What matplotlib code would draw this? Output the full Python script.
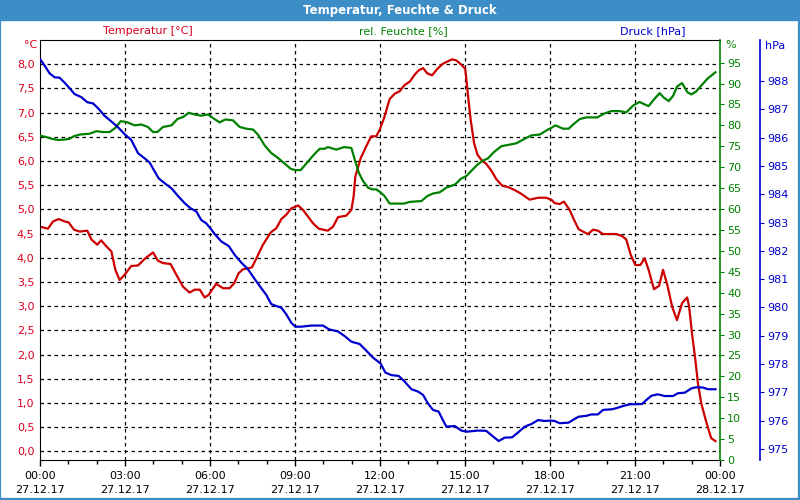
import matplotlib
matplotlib.use('Agg')
import matplotlib.pyplot as plt
from matplotlib.ticker import FuncFormatter, MultipleLocator
from matplotlib.patches import Rectangle

# hours since 27.12.17 00:00
temp_h = [0.02, 0.28, 0.46, 0.66, 0.87, 1.01, 1.2, 1.4, 1.67, 1.81, 2.02, 2.16, 2.32, 2.52, 2.66, 2.81,
          2.99, 3.22, 3.46, 3.72, 3.99, 4.16, 4.34, 4.61, 4.81, 5.05, 5.28, 5.46, 5.64, 5.81, 5.95, 6.11,
          6.22, 6.46, 6.69, 6.85, 7.01, 7.16, 7.48, 7.64, 7.87, 8.14, 8.34, 8.52, 8.69, 8.87, 9.11, 9.28,
          9.46, 9.64, 9.84, 10.16, 10.34, 10.52, 10.81, 10.99, 11.07, 11.13, 11.32, 11.52, 11.69, 11.87,
          11.99, 12.14, 12.34, 12.52, 12.69, 12.87, 13.05, 13.22, 13.36, 13.52, 13.67, 13.84, 14.02,
          14.22, 14.40, 14.54, 14.69, 14.87, 15.01, 15.11, 15.20, 15.32, 15.44, 15.58, 15.75, 15.93,
          16.11, 16.31, 16.52, 16.75, 16.99, 17.28, 17.58, 17.87, 18.07, 18.16, 18.34, 18.49, 18.69,
          18.85, 19.01, 19.20, 19.34, 19.52, 19.69, 19.87, 20.11, 20.34, 20.54, 20.69, 20.85, 21.01,
          21.19, 21.34, 21.48, 21.67, 21.85, 21.99, 22.14, 22.31, 22.48, 22.66, 22.84, 22.91, 23.01,
          23.13, 23.22, 23.34, 23.48, 23.60, 23.69, 23.84]
temp_c = [4.64, 4.60, 4.75, 4.80, 4.75, 4.73, 4.58, 4.54, 4.56, 4.38, 4.27, 4.36, 4.25, 4.13, 3.75, 3.54,
          3.65, 3.83, 3.84, 3.99, 4.11, 3.94, 3.89, 3.87, 3.65, 3.40, 3.28, 3.34, 3.34, 3.18, 3.23, 3.37,
          3.46, 3.37, 3.37, 3.47, 3.68, 3.76, 3.80, 3.99, 4.27, 4.52, 4.61, 4.80, 4.89, 5.02, 5.08, 4.99,
          4.85, 4.71, 4.60, 4.56, 4.64, 4.84, 4.87, 4.99, 5.27, 5.68, 6.06, 6.31, 6.51, 6.51,
          6.65, 6.88, 7.28, 7.39, 7.44, 7.57, 7.64, 7.78, 7.87, 7.92, 7.81, 7.77, 7.90,
          8.01, 8.06, 8.10, 8.08, 7.99, 7.90, 7.33, 6.85, 6.37, 6.13, 6.02, 5.94, 5.80,
          5.62, 5.49, 5.46, 5.40, 5.32, 5.20, 5.24, 5.24, 5.19, 5.13, 5.11, 5.16, 4.99,
          4.78, 4.59, 4.53, 4.49, 4.58, 4.56, 4.49, 4.49, 4.49, 4.45, 4.38, 4.06, 3.85,
          3.85, 3.99, 3.75, 3.35, 3.42, 3.75, 3.44, 2.99, 2.71, 3.06, 3.18, 2.99, 2.44,
          1.89, 1.41, 0.99, 0.68, 0.44, 0.27, 0.21]

hum_h = [0.02, 0.22, 0.4, 0.64, 0.87, 1.05, 1.2, 1.4, 1.75, 1.99, 2.22, 2.46, 2.66, 2.85, 3.05, 3.34,
         3.58, 3.81, 3.99, 4.14, 4.34, 4.64, 4.85, 5.05, 5.25, 5.46, 5.69, 5.93, 6.16, 6.34, 6.54,
         6.81, 7.05, 7.28, 7.52, 7.69, 7.93, 8.16, 8.40, 8.61, 8.85, 9.01, 9.20, 9.44, 9.67, 9.87,
         10.05, 10.16, 10.46, 10.73, 10.99, 11.11, 11.25, 11.40, 11.58, 11.72, 11.87, 12.05, 12.16,
         12.34, 12.64, 12.85, 13.05, 13.46, 13.67, 13.87, 14.11, 14.34, 14.66, 14.85, 15.05, 15.22,
         15.44, 15.64, 15.81, 16.02, 16.28, 16.58, 16.81, 17.05, 17.34, 17.64, 17.93, 18.05, 18.19,
         18.46, 18.66, 18.85, 19.05, 19.28, 19.67, 19.91, 20.16, 20.46, 20.69, 20.93, 21.16, 21.34,
         21.48, 21.67, 21.87, 22.02, 22.19, 22.34, 22.49, 22.66, 22.85, 22.99, 23.16, 23.34, 23.55,
         23.84]
hum_pct = [77.5, 77.2, 76.8, 76.5, 76.6, 76.8, 77.4, 77.8, 78.0, 78.6, 78.4, 78.4, 79.4, 81.0, 80.8, 80.0,
           80.2, 79.6, 78.4, 78.4, 79.6, 80.0, 81.5, 82.0, 83.0, 82.6, 82.3, 82.6, 81.5, 80.7, 81.4,
           81.2, 79.6, 79.2, 79.0, 77.8, 75.2, 73.4, 72.2, 71.0, 69.6, 69.3, 69.3, 71.2, 73.0, 74.4,
           74.4, 74.8, 74.2, 74.8, 74.6, 71.8, 68.7, 66.7, 65.1, 64.7, 64.7, 63.8, 63.1,
           61.3, 61.3, 61.3, 61.7, 61.9, 63.1, 63.7, 64.0, 65.1, 65.9, 67.2, 67.9, 69.1,
           70.6, 71.6, 72.1, 73.6, 75.0, 75.4, 75.7, 76.6, 77.6, 77.8, 79.0, 79.4, 80.0,
           79.2, 79.2, 80.4, 81.5, 81.9, 81.9, 82.8, 83.4, 83.4, 83.1, 84.7, 85.6, 85.0,
           84.6, 86.2, 87.7, 86.6, 85.8, 87.0, 89.3, 90.1, 87.9, 87.4, 88.1, 89.5, 91.1,
           92.7]

pres_h = [0.02, 0.16, 0.34, 0.52, 0.69, 0.87, 1.05, 1.22, 1.46, 1.67, 1.87, 2.05, 2.28, 2.52, 2.75, 2.99,
          3.22, 3.46, 3.69, 3.87, 4.05, 4.19, 4.40, 4.64, 4.87, 5.11, 5.32, 5.52, 5.69, 5.87, 6.05,
          6.16, 6.40, 6.66, 6.87, 7.11, 7.34, 7.58, 7.81, 7.99, 8.16, 8.34, 8.52, 8.69, 8.87, 9.01,
          9.22, 9.58, 9.99, 10.19, 10.52, 10.75, 10.99, 11.28, 11.52, 11.75, 12.02, 12.19, 12.40,
          12.66, 12.87, 13.11, 13.34, 13.52, 13.69, 13.87, 14.07, 14.19, 14.34, 14.64, 14.87, 15.05,
          15.46, 15.75, 15.99, 16.19, 16.40, 16.66, 16.87, 17.11, 17.34, 17.58, 17.81, 18.03, 18.16,
          18.34, 18.66, 18.85, 19.01, 19.28, 19.46, 19.69, 19.87, 20.16, 20.34, 20.52, 20.81, 21.01,
          21.25, 21.40, 21.58, 21.81, 22.05, 22.34, 22.52, 22.76, 22.99, 23.16, 23.40, 23.58, 23.84]
pres_hpa = [988.75, 988.55, 988.27, 988.13, 988.12, 987.94, 987.74, 987.54, 987.43, 987.25, 987.21,
            987.04, 986.77, 986.57, 986.37, 986.12, 985.92, 985.45, 985.27, 985.12, 984.80, 984.56,
            984.39, 984.21, 983.94, 983.68, 983.50, 983.39, 983.09, 982.97, 982.75, 982.60, 982.33,
            982.17, 981.86, 981.58, 981.35, 981.00, 980.68, 980.44, 980.12, 980.05, 979.99, 979.76,
            979.46, 979.32, 979.32, 979.36, 979.36, 979.23, 979.15, 978.99, 978.79, 978.71, 978.47,
            978.23, 978.02, 977.70, 977.61, 977.58, 977.38, 977.11, 977.03, 976.91, 976.61, 976.38,
            976.32, 976.08, 975.79, 975.81, 975.65, 975.61, 975.65, 975.64, 975.44, 975.28, 975.40,
            975.41, 975.58, 975.79, 975.88, 976.02, 975.99, 976.00, 975.99, 975.91, 975.93, 976.05,
            976.14, 976.17, 976.22, 976.22, 976.38, 976.40, 976.44, 976.50, 976.58, 976.58, 976.59,
            976.73, 976.88, 976.93, 976.87, 976.87, 976.97, 976.99, 977.14, 977.18, 977.17, 977.11,
            977.11]

x_ticks = [0, 3, 6, 9, 12, 15, 18, 21, 24]
x_labels = ['00:00\n27.12.17', '03:00\n27.12.17', '06:00\n27.12.17', '09:00\n27.12.17',
            '12:00\n27.12.17', '15:00\n27.12.17', '18:00\n27.12.17', '21:00\n27.12.17',
            '00:00\n28.12.17']

RED = '#cc0000'
RED_TXT = '#d8001e'
GREEN = '#008000'
BLUE = '#0000cc'
BAR = '#3d8ec7'

plt.rcParams['font.family'] = 'DejaVu Sans'
plt.rcParams['font.size'] = 8

fig = plt.figure(figsize=(8, 5), dpi=100)
fig.patch.set_facecolor('white')

# title bar and frame
fig.patches.append(Rectangle((0, 0.96), 1, 0.04, transform=fig.transFigure, color=BAR, zorder=0))
fig.patches.append(Rectangle((0.0, 0.002), 0.999, 0.996, transform=fig.transFigure,
                             fill=False, edgecolor=BAR, lw=1.6, zorder=0))
fig.text(0.5, 0.979, 'Temperatur, Feuchte & Druck', color='white', fontweight='bold',
         fontsize=8.5, ha='center', va='center')

ax = fig.add_axes([0.05, 0.08, 0.85, 0.84])
ax2 = ax.twinx()
ax3 = ax.twinx()

ax.plot(temp_h, temp_c, color=RED, lw=1.6)
ax2.plot(hum_h, hum_pct, color=GREEN, lw=1.6)
ax3.plot(pres_h, pres_hpa, color=BLUE, lw=1.6)

ax.set_xlim(0, 24)
ax.set_ylim(-0.18, 8.5)
ax2.set_ylim(0, 100.4)
ax3.set_ylim(974.61, 989.45)

# left axis
ax.yaxis.set_major_formatter(FuncFormatter(lambda v, p: f'{v:.1f}'.replace('.', ',')))
ax.set_yticks([i * 0.5 for i in range(17)])
ax.tick_params(axis='y', length=0, pad=4, colors=RED_TXT, labelsize=8)
ax.grid(True, axis='y', color='black', linestyle=(0, (2.8, 2.8)), lw=0.9)
ax.set_xticks(x_ticks)
ax.set_xticklabels(x_labels, linespacing=1.45)
ax.xaxis.set_minor_locator(MultipleLocator(1))
ax.tick_params(axis='x', which='major', length=4, width=1, pad=4, labelsize=8)
ax.tick_params(axis='x', which='minor', length=3, width=1)
for xt in x_ticks[1:-1]:
    ax.axvline(xt, color='black', linestyle=(0, (2.8, 2.8)), lw=0.9, zorder=0.5)
ax.spines['right'].set_visible(False)

# humidity axis
ax2.set_yticks(list(range(0, 100, 5)))
ax2.tick_params(axis='y', colors=GREEN, length=3, pad=2, labelsize=8)
ax2.spines['right'].set_color(GREEN)
ax2.spines['right'].set_linewidth(1.2)
for s in ['left', 'top', 'bottom']:
    ax2.spines[s].set_visible(False)

# pressure axis
ax3.spines['right'].set_position(('axes', 1.0588))
ax3.spines['right'].set_color(BLUE)
ax3.spines['right'].set_linewidth(1.2)
for s in ['left', 'top', 'bottom']:
    ax3.spines[s].set_visible(False)
ax3.set_yticks(list(range(975, 989)))
ax3.tick_params(axis='y', colors=BLUE, length=3, pad=2, labelsize=8)

# series labels / units
fig.text(148 / 800, 1 - 31 / 500, 'Temperatur [°C]', color=RED_TXT, ha='center', va='center', fontsize=8)
fig.text(403 / 800, 1 - 31 / 500, 'rel. Feuchte [%]', color=GREEN, ha='center', va='center', fontsize=8)
fig.text(653 / 800, 1 - 31 / 500, 'Druck [hPa]', color=BLUE, ha='center', va='center', fontsize=8)
fig.text(37 / 800, 1 - 45 / 500, '°C', color=RED_TXT, ha='right', va='center', fontsize=8)
fig.text(725 / 800, 1 - 45 / 500, '%', color=GREEN, ha='left', va='center', fontsize=8)
fig.text(765 / 800, 1 - 46 / 500, 'hPa', color=BLUE, ha='left', va='center', fontsize=8)

fig.savefig('out.png', dpi=100)
